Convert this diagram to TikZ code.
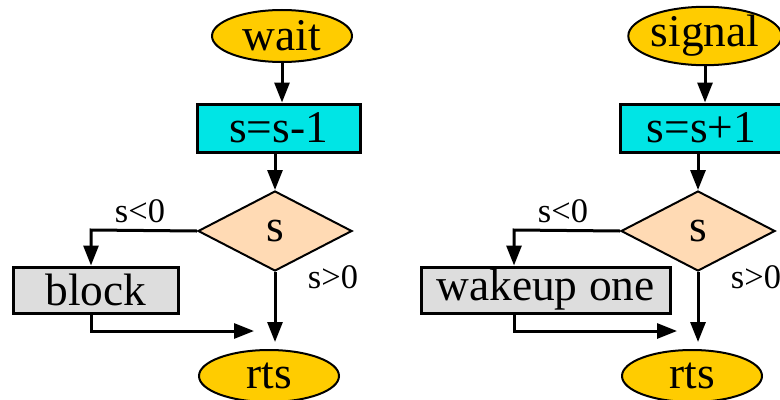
\documentclass[tikz,border=0pt]{standalone}
\usepackage{fontspec}
\setmainfont{Liberation Serif}
\usetikzlibrary{shapes.geometric,arrows.meta}
\definecolor{gold}{RGB}{255,204,0}
\definecolor{aqua}{RGB}{0,229,229}
\definecolor{peach}{RGB}{255,218,180}
\definecolor{lightgrey}{RGB}{221,221,221}

\tikzset{
  big/.style={font=\fontsize{32.3}{37}\selectfont},
  term/.style={big,ellipse,draw,fill=gold,line width=0.5mm,minimum width=35mm,minimum height=13mm,inner sep=0pt},
  op/.style={big,rectangle,draw,fill=aqua,line width=0.75mm,minimum width=40.75mm,minimum height=12mm,inner sep=0pt},
  test/.style={big,diamond,draw,fill=peach,line width=0.5mm,minimum width=38.5mm,minimum height=20mm,inner sep=0pt},
  act/.style={big,rectangle,draw,fill=lightgrey,line width=0.75mm,minimum height=11.5mm,inner sep=0pt},
  cond/.style={font=\fontsize{24.5}{28}\selectfont,anchor=base},
  flow/.style={-{Triangle[length=5mm,width=3.75mm]},line width=0.75mm},
}

\begin{document}
\begin{tikzpicture}[x=0.25mm,y=-0.25mm]
  \useasboundingbox (0,0) rectangle (780,399);
  % wait
  \node[term] (wait) at (282,36) {wait};
  \node[op] (dec) at (278.5,128) {s=s-1};
  \node[test] (sw) at (275,231) {s};
  \node[act,minimum width=41mm] (block) at (96,290) {block};
  \node[term] (rtsw) at (269,376) {rts};
  \coordinate (lw) at (91,230);
  \coordinate (jw) at (254,331);
  \node[cond] (ltw) at (140,222) {s<0};
  \node[cond] (gtw) at (333,288) {s>0};

  \draw[flow] (wait.south) -- (wait.south |- dec.north);
  \draw[flow] (sw.north |- dec.south) -- (sw.north);
  \draw[flow] (sw.west) -- (lw) -- (lw |- block.north);
  \draw[flow,shorten >=1.75mm] (sw.south) -- (sw.south |- rtsw.north);
  \draw[flow] (lw |- block.south) -- (lw |- jw) -- (jw);

  % signal
  \node[term] (signal) at (705,36) {signal};
  \node[op] (inc) at (701.5,128) {s=s+1};
  \node[test] (ss) at (698,231) {s};
  \node[act,minimum width=62.25mm] (wake) at (545.5,290) {wakeup one};
  \node[term] (rtss) at (692,376) {rts};
  \coordinate (ls) at (514,230);
  \coordinate (js) at (677,331);
  \node[cond] (lts) at (563,222) {s<0};
  \node[cond] (gts) at (756,288) {s>0};

  \draw[flow] (signal.south) -- (signal.south |- inc.north);
  \draw[flow] (ss.north |- inc.south) -- (ss.north);
  \draw[flow] (ss.west) -- (ls) -- (ls |- wake.north);
  \draw[flow,shorten >=1.75mm] (ss.south) -- (ss.south |- rtss.north);
  \draw[flow] (ls |- wake.south) -- (ls |- js) -- (js);
\end{tikzpicture}
\end{document}
